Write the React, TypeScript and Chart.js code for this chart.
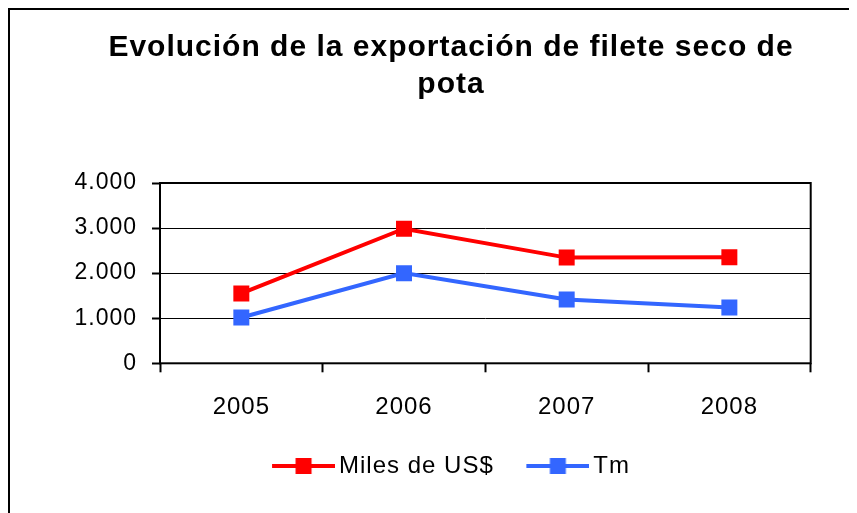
import React, { useEffect, useRef } from 'react';
import { Chart, registerables } from 'chart.js';

Chart.register(...registerables);

const years = ['2005', '2006', '2007', '2008'];
const milesUSD = [1550, 2985, 2345, 2355];
const toneladas = [1015, 2000, 1415, 1240];
const yTickLabels = ['0', '1.000', '2.000', '3.000', '4.000'];
const seriesNames = ['Miles de US$', 'Tm'];
const seriesColors = ['#FF0000', '#3366FF'];
const titleLines = ['Evolución de la exportación de filete seco de', 'pota'];

const FONT = "'Liberation Sans', Arial, Helvetica, sans-serif";

function makeLegendImage(color: string): HTMLCanvasElement {
  const c = document.createElement('canvas');
  c.width = 71;
  c.height = 20;
  const g = c.getContext('2d') as CanvasRenderingContext2D;
  g.strokeStyle = color;
  g.lineWidth = 4;
  g.beginPath();
  g.moveTo(8, 10);
  g.lineTo(71, 10);
  g.stroke();
  g.fillStyle = color;
  g.fillRect(31.5, 2, 16, 16);
  return c;
}

const spacingPlugin = {
  id: 'letterSpacing',
  beforeUpdate(chart: any) {
    chart.ctx.letterSpacing = '1px';
  },
  beforeLayout(chart: any) {
    chart.ctx.letterSpacing = '1px';
  },
  beforeDraw(chart: any) {
    chart.ctx.letterSpacing = '1px';
  },
};

const framePlugin = {
  id: 'frame',
  beforeDatasetsDraw(chart: any) {
    const { ctx, chartArea: a } = chart;
    ctx.save();
    ctx.strokeStyle = '#000';
    ctx.lineWidth = 2;
    ctx.strokeRect(a.left, a.top, a.right - a.left, a.bottom - a.top);
    ctx.restore();
  },
};

export default function App() {
  const ref = useRef<HTMLCanvasElement | null>(null);

  useEffect(() => {
    document.documentElement.style.overflow = 'hidden';
    document.body.style.overflow = 'hidden';
    const legendImages = seriesColors.map((c) => makeLegendImage(c));
    const seriesData = [milesUSD, toneladas];
    const chart = new Chart(ref.current as HTMLCanvasElement, {
      type: 'line',
      data: {
        labels: years,
        datasets: seriesNames.map((name, i) => ({
          label: name,
          data: seriesData[i],
          borderColor: seriesColors[i],
          backgroundColor: seriesColors[i],
          borderWidth: 4,
          tension: 0,
          pointStyle: 'rect',
          pointRadius: 11.3,
          pointBorderWidth: 0,
          pointBackgroundColor: seriesColors[i],
          fill: false,
          yAxisID: 'y',
        })),
      },
      options: {
        responsive: false,
        devicePixelRatio: 1,
        animation: false,
        events: [],
        layout: { padding: { left: 60, right: 23, top: 0, bottom: 25 } },
        plugins: {
          tooltip: { enabled: false },
          title: {
            display: true,
            text: titleLines,
            color: '#000',
            font: { family: FONT, size: 30, weight: 'bold', lineHeight: 37 / 30 },
            padding: { top: 21.5, bottom: 79.5 },
          },
          legend: {
            display: true,
            position: 'bottom',
            labels: {
              usePointStyle: true,
              pointStyleWidth: 55,
              padding: 32.6,
              color: '#000',
              font: { family: FONT, size: 24 },
              generateLabels: (ch: any) =>
                ch.data.datasets.map((ds: any, i: number) => ({
                  text: ds.label,
                  fillStyle: ds.borderColor,
                  strokeStyle: ds.borderColor,
                  lineWidth: 0,
                  pointStyle: legendImages[i],
                  hidden: false,
                  datasetIndex: i,
                  fontColor: '#000',
                })),
            },
          },
        },
        scales: {
          x: {
            type: 'category',
            offset: true,
            grid: {
              offset: true,
              drawOnChartArea: false,
              drawTicks: true,
              tickLength: 9,
              tickColor: '#000',
              tickWidth: 2,
              color: '#000',
            },
            border: { display: false },
            ticks: {
              color: '#000',
              font: { family: FONT, size: 24 },
              padding: 20.3,
              maxRotation: 0,
              autoSkip: false,
            },
            afterFit: (s: any) => {
              s.height = 58.1;
            },
          },
          y: {
            position: 'left',
            min: 0,
            max: 4000,
            grid: {
              color: '#000',
              lineWidth: 1,
              drawTicks: true,
              tickLength: 8,
              tickColor: '#000',
              tickWidth: 2,
            },
            border: { display: false },
            ticks: {
              stepSize: 1000,
              color: '#000',
              font: { family: FONT, size: 23 },
              padding: 15,
              callback: (_v: any, index: number) => yTickLabels[index],
            },
            afterFit: (s: any) => {
              s.width = 92;
            },
          },
          yRight: {
            type: 'linear',
            position: 'right',
            display: true,
            grid: { display: false, drawTicks: false },
            border: { display: false },
            ticks: { display: false },
            afterFit: (s: any) => {
              s.width = 23.3;
            },
          },
        },
      },
      plugins: [spacingPlugin, framePlugin],
    } as any);
    return () => chart.destroy();
  }, []);

  return (
    <div style={{ position: 'relative', width: 849, height: 505, overflow: 'hidden' }}>
      <canvas ref={ref} width={849} height={505} style={{ display: 'block' }} />
      <div
        style={{
          position: 'absolute',
          left: 0,
          top: 0,
          width: 900,
          height: 600,
          border: '2px solid #000',
          boxSizing: 'border-box',
          pointerEvents: 'none',
        }}
      />
    </div>
  );
}
